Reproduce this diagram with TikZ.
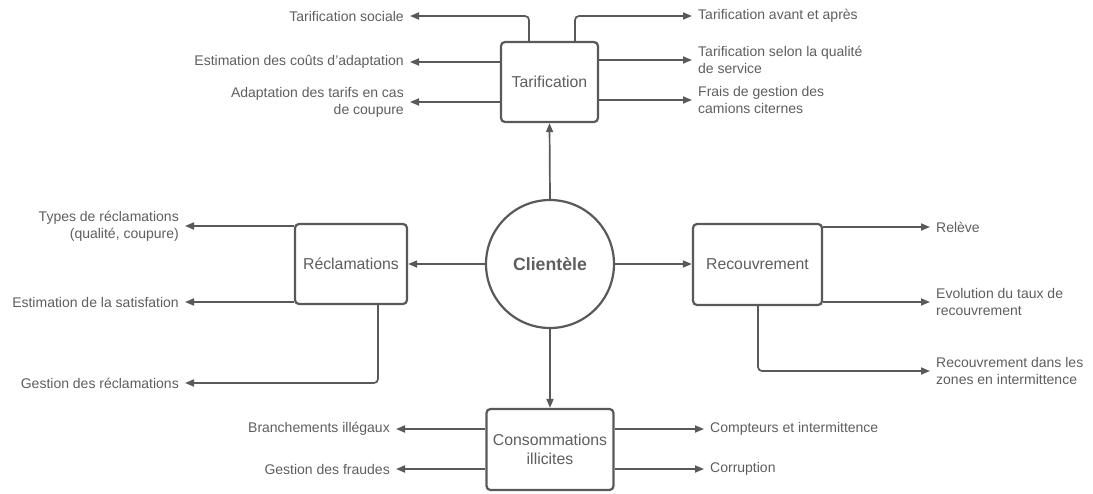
\documentclass[tikz,border=0pt]{standalone}
\usepackage{fontspec}
\setmainfont{Liberation Sans}
\usetikzlibrary{arrows.meta}
\definecolor{ln}{HTML}{595959}
\definecolor{tx}{HTML}{5E5E5E}
\begin{document}
\begin{tikzpicture}[x=1pt,y=-1pt,
  lbl/.style={font=\fontsize{14}{16.8}\selectfont, text=tx, inner xsep=6pt, inner ysep=0pt},
  lft/.style={lbl, anchor=east, align=right},
  rgt/.style={lbl, anchor=west, align=left},
  box/.style={draw=ln, line width=2.2pt, rounded corners=4pt, fill=white, align=center,
     font=\fontsize{15.8}{19}\selectfont, text=tx},
  arr/.style={draw=ln, line width=1.7pt, rounded corners=4pt, -{Triangle[length=9pt,width=7pt]}}
]
\useasboundingbox (0,0) rectangle (1093,493);
% central circle
\node[circle, draw=ln, line width=2.2pt, minimum size=128pt, inner sep=0pt,
  font=\bfseries\fontsize{17.7}{20}\selectfont, text=tx] (cli) at (550,264) {Clientèle};
% boxes
\node[box, minimum width=97pt, minimum height=80pt] (tar) at (549.5,82) {Tarification};
\node[box, minimum width=112pt, minimum height=80pt] (rec) at (351,264) {Réclamations};
\node[box, minimum width=129pt, minimum height=81pt] (rcv) at (757.5,264.5) {Recouvrement};
\node[box, minimum width=127pt, minimum height=81pt] (cons) at (550,449.5) {Consommations\\illicites};
% central connectors
\draw[arr] (cli.north) -- (tar.south);
\draw[arr] (cli.west) -- (cli.west -| rec.east);
\draw[arr] (cli.east) -- (cli.east -| rcv.west);
\draw[arr] (cli.south) -- (cons.north);
% Tarification labels
\node[lft] (t1) at (410,16) {Tarification sociale};
\node[lft] (t2) at (410,62) {Estimation des coûts d'adaptation};
\node[lft] (t3) at (410,102) {Adaptation des tarifs en cas\\de coupure};
\node[rgt] (t4) at (692,16) {Tarification avant et après};
\node[rgt] (t5) at (692,60) {Tarification selon la qualité\\de service};
\node[rgt] (t6) at (692,100) {Frais de gestion des\\camions citernes};
\coordinate (tl) at (529,42);
\coordinate (tr) at (575,42);
\draw[arr] (tl) |- (t1.east);
\draw[arr] (tr) |- (t4.west);
\draw[arr] (tar.west |- t2.east) -- (t2.east);
\draw[arr] (tar.west |- t3.east) -- (t3.east);
\draw[arr] (tar.east |- t5.west) -- (t5.west);
\draw[arr] (tar.east |- t6.west) -- (t6.west);
% Reclamations labels
\node[lft] (r1) at (185,226) {Types de réclamations\\(qualité, coupure)};
\node[lft] (r2) at (185,302) {Estimation de la satisfation};
\node[lft] (r3) at (185,383) {Gestion des réclamations};
\draw[arr] (rec.west |- r1.east) -- (r1.east);
\draw[arr] (rec.west |- r2.east) -- (r2.east);
\coordinate (rb) at (378,304);
\draw[arr] (rb) |- (r3.east);
% Recouvrement labels
\node[rgt] (v1) at (930,227) {Relève};
\node[rgt] (v2) at (930,302) {Evolution du taux de\\recouvrement};
\node[rgt] (v3) at (930,371) {Recouvrement dans les\\zones en intermittence};
\draw[arr] (rcv.east |- v1.west) -- (v1.west);
\draw[arr] (rcv.east |- v2.west) -- (v2.west);
\coordinate (vb) at (758,305);
\draw[arr] (vb) |- (v3.west);
% Consommations labels
\node[lft] (c1) at (396,429) {Branchements illégaux};
\node[lft] (c2) at (396,469) {Gestion des fraudes};
\node[rgt] (c3) at (704,429) {Compteurs et intermittence};
\node[rgt] (c4) at (704,469) {Corruption};
\draw[arr] (cons.west |- c1.east) -- (c1.east);
\draw[arr] (cons.west |- c2.east) -- (c2.east);
\draw[arr] (cons.east |- c3.west) -- (c3.west);
\draw[arr] (cons.east |- c4.west) -- (c4.west);
\end{tikzpicture}
\end{document}
